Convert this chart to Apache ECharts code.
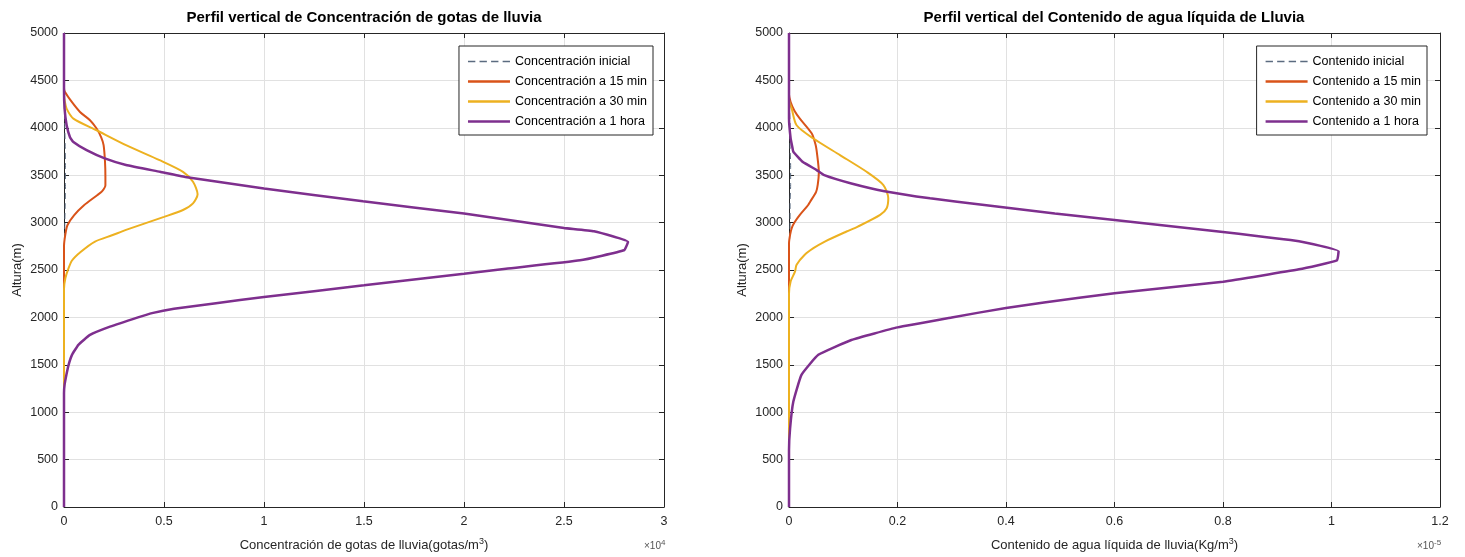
<!DOCTYPE html>
<html>
<head>
<meta charset="utf-8">
<script src="https://cdn.jsdelivr.net/npm/echarts@6/dist/echarts.min.js"></script>
<style>
html,body{margin:0;padding:0;background:#fff;}
#c{width:1465px;height:557px;}
</style>
</head>
<body>
<div id="c"></div>
<script>
// ---------- Data (altitude in m, values in axis units: x1e4 gotas/m3 and x1e-5 Kg/m3) ----------
const yTicks = [0,500,1000,1500,2000,2500,3000,3500,4000,4500,5000];
const leftXTicks = [0,0.5,1,1.5,2,2.5,3];
const rightXTicks = [0,0.2,0.4,0.6,0.8,1,1.2];

// Left: concentration (x1e4)
const concIniAlt = [5000,4400,4200,4000,3800,3600,3400,3200,3000,2800,2600,0];
const concIni    = [0,0,0.002,0.004,0.006,0.007,0.007,0.006,0.004,0.002,0,0];

const conc15Alt = [5000,4420,4377,4270,4167,4080,3992,3900,3817,3642,3480,3394,3330,3289,3183,3077,2972,2866,2750,0];
const conc15    = [0,0,0.005,0.04,0.08,0.13,0.163,0.186,0.198,0.205,0.207,0.207,0.19,0.166,0.1,0.05,0.017,0.006,0,0];

const conc30Alt = [5000,4340,4280,4202,4097,3974,3817,3659,3536,3431,3300,3203,3133,3060,2923,2866,2800,2690,2600,2514,2415,2300,0];
const conc30    = [0,0,0.004,0.013,0.047,0.163,0.31,0.478,0.595,0.645,0.668,0.645,0.595,0.5,0.31,0.24,0.155,0.083,0.04,0.022,0.007,0,0];

const conc1hAlt = [5000,4400,4200,4030,3900,3850,3764,3677,3607,3536,3482,3359,3225,3095,2944,2908,2796,2708,2602,2514,2461,2338,2215,2150,2091,2045,2000,1902,1815,1710,1605,1500,1395,1290,1200,0];
const conc1h    = [0,0,0.003,0.013,0.03,0.047,0.113,0.204,0.31,0.48,0.606,1.0,1.495,2.0,2.5,2.65,2.82,2.8,2.58,2.21,2.0,1.5,1.0,0.76,0.55,0.44,0.37,0.23,0.13,0.072,0.04,0.023,0.012,0.003,0,0];

// Right: liquid water content (x1e-5)
const contIniAlt = [5000,4400,4200,4000,3800,3600,3400,3200,3000,2800,2600,0];
const contIni    = [0,0,0.001,0.002,0.002,0.003,0.003,0.002,0.002,0.001,0,0];

const cont15Alt = [5000,4350,4272,4180,4097,3940,3820,3712,3535,3400,3324,3221,3183,3081,3000,2941,2870,2780,0];
const cont15    = [0,0,0.003,0.01,0.02,0.042,0.049,0.052,0.055,0.053,0.05,0.039,0.035,0.02,0.01,0.005,0.002,0,0];

const cont30Alt = [5000,4300,4202,4027,3887,3712,3536,3396,3256,3151,3081,2958,2906,2800,2730,2660,2555,2482,2380,2250,0];
const cont30    = [0,0,0.005,0.014,0.045,0.094,0.143,0.174,0.183,0.18,0.168,0.127,0.106,0.066,0.045,0.029,0.014,0.011,0.003,0,0];

const cont1hAlt = [5000,4100,3887,3800,3747,3642,3554,3500,3412,3331,3256,3186,3095,3028,2901,2803,2697,2602,2507,2377,2254,2157,2100,2000,1895,1762,1605,1394,1112,830,600,0];
const cont1h    = [0,0,0.003,0.006,0.008,0.025,0.051,0.065,0.115,0.176,0.26,0.36,0.49,0.6,0.8,0.94,1.013,1.01,0.94,0.8,0.6,0.47,0.4,0.3,0.2,0.115,0.054,0.023,0.008,0.002,0,0];

const leftNames  = ['Concentración inicial','Concentración a 15 min','Concentración a 30 min','Concentración a 1 hora'];
const rightNames = ['Contenido inicial','Contenido a 15 min','Contenido a 30 min','Contenido a 1 hora'];
const titles = ['Perfil vertical de Concentración de gotas de lluvia','Perfil vertical del Contenido de agua líquida de Lluvia'];

const colIni = '#5b6b80', col15 = '#D95319', col30 = '#EDB120', col1h = '#7E2F8E';

function pairs(vals, alts){ return vals.map((v,i)=>[v, alts[i]]); }

const FONT = '"Liberation Sans", Arial, sans-serif';
const txt = '#262626';

function xAxisMain(grid, max, interval, nameRich){
  return {
    type:'value', gridIndex:grid, min:0, max:max, interval:interval, position:'bottom',
    axisLine:{show:true, onZero:false, lineStyle:{color:txt, width:1}},
    axisTick:{show:true, inside:true, length:5, lineStyle:{color:txt}},
    axisLabel:{color:txt, fontSize:12.5, fontFamily:FONT, margin:8, formatter:v=>String(+v.toFixed(2))},
    splitLine:{show:true, lineStyle:{color:'#e1e1e1', width:1}},
    name:nameRich, nameLocation:'middle', nameGap:30,
    nameTextStyle:{fontFamily:FONT, color:txt, rich:{
      a:{fontSize:13, fontFamily:FONT, color:txt},
      b:{fontSize:9, fontFamily:FONT, color:txt, padding:[0,0,7,0]}
    }}
  };
}
function xAxisTop(grid, max, interval){
  return {
    type:'value', gridIndex:grid, min:0, max:max, interval:interval, position:'top',
    axisLine:{show:true, onZero:false, lineStyle:{color:txt, width:1}},
    axisTick:{show:true, inside:true, length:5, lineStyle:{color:txt}},
    axisLabel:{show:false}, splitLine:{show:false}
  };
}
function yAxisMain(grid){
  return {
    type:'value', gridIndex:grid, min:0, max:5000, interval:500, position:'left',
    axisLine:{show:true, onZero:false, lineStyle:{color:txt, width:1}},
    axisTick:{show:true, inside:true, length:5, lineStyle:{color:txt}},
    axisLabel:{color:txt, fontSize:12.5, fontFamily:FONT, margin:6, formatter:v=>String(v)},
    splitLine:{show:true, lineStyle:{color:'#e1e1e1', width:1}},
    name:'Altura(m)', nameLocation:'middle', nameGap:40,
    nameTextStyle:{fontSize:13, fontFamily:FONT, color:txt}
  };
}
function yAxisRight(grid){
  return {
    type:'value', gridIndex:grid, min:0, max:5000, interval:500, position:'right',
    axisLine:{show:true, onZero:false, lineStyle:{color:txt, width:1}},
    axisTick:{show:true, inside:true, length:5, lineStyle:{color:txt}},
    axisLabel:{show:false}, splitLine:{show:false}
  };
}
function line(name, data, color, width, xi, yi, dashed, z, smooth){
  return {
    type:'line', name:name, data:data, xAxisIndex:xi, yAxisIndex:yi,
    symbol:'none', showSymbol:false, smooth:smooth, z:z,
    lineStyle:{color:color, width:width, type: dashed ? [6,4] : 'solid'},
    itemStyle:{color:color},
    emphasis:{disabled:true}, animation:false
  };
}
const solidIcon  = 'path://M0,0h40v2.4h-40z';
const dashedIcon = 'path://M0,0h7v1.3h-7z M11,0h7v1.3h-7z M22,0h7v1.3h-7z M33,0h7v1.3h-7z';
function legendCfg(names, right){
  return {
    data:names.map((n,i)=>({name:n, icon: i === 0 ? dashedIcon : solidIcon})),
    orient:'vertical', right:right, top:46, itemWidth:42, itemHeight:14, itemGap:7,
    symbolKeepAspect:true,
    padding:[9,6,7,9], backgroundColor:'#fff', borderColor:txt, borderWidth:1, borderRadius:0,
    textStyle:{fontSize:12.5, color:'#000', fontFamily:FONT}, selectedMode:false
  };
}

const chart = echarts.init(document.getElementById('c'), null, {renderer:'canvas'});
chart.setOption({
  backgroundColor:'#ffffff',
  animation:false,
  textStyle:{fontFamily:FONT},
  grid:[
    {left:64, top:33, width:600, height:474, containLabel:false},
    {left:789, top:33, width:651, height:474, containLabel:false}
  ],
  xAxis:[
    xAxisMain(0, 3, 0.5, '{a|Concentración de gotas de lluvia(gotas/m}{b|3}{a|)}'),
    xAxisMain(1, 1.2, 0.2, '{a|Contenido de agua líquida de lluvia(Kg/m}{b|3}{a|)}'),
    xAxisTop(0, 3, 0.5),
    xAxisTop(1, 1.2, 0.2)
  ],
  yAxis:[ yAxisMain(0), yAxisMain(1), yAxisRight(0), yAxisRight(1) ],
  legend:[ legendCfg(leftNames, 812), legendCfg(rightNames, 38) ],
  graphic:[
    {type:'text', x:364, y:10, style:{text:titles[0], align:'center', fill:'#000',
      font:'bold 15px "Liberation Sans", Arial, sans-serif'}},
    {type:'text', x:1114, y:10, style:{text:titles[1], align:'center', fill:'#000',
      font:'bold 15px "Liberation Sans", Arial, sans-serif'}},
    {type:'text', left:644, top:539, style:{text:'{a|×10}{b|4}', rich:{
      a:{fontSize:10, fontFamily:FONT, fill:'#555'}, b:{fontSize:8, fontFamily:FONT, fill:'#555', padding:[0,0,6,0]}}}},
    {type:'text', left:1417, top:539, style:{text:'{a|×10}{b|-5}', rich:{
      a:{fontSize:10, fontFamily:FONT, fill:'#555'}, b:{fontSize:8, fontFamily:FONT, fill:'#555', padding:[0,0,6,0]}}}}
  ],
  series:[
    line(leftNames[0], pairs(concIni, concIniAlt), colIni, 1, 0, 0, true, 2, 0.25),
    line(leftNames[1], pairs(conc15, conc15Alt), col15, 2, 0, 0, false, 3, 0.25),
    line(leftNames[2], pairs(conc30, conc30Alt), col30, 2, 0, 0, false, 4, 0.25),
    line(leftNames[3], pairs(conc1h, conc1hAlt), col1h, 2.5, 0, 0, false, 5, 0.12),
    line(rightNames[0], pairs(contIni, contIniAlt), colIni, 1, 1, 1, true, 2, 0.25),
    line(rightNames[1], pairs(cont15, cont15Alt), col15, 2, 1, 1, false, 3, 0.25),
    line(rightNames[2], pairs(cont30, cont30Alt), col30, 2, 1, 1, false, 4, 0.25),
    line(rightNames[3], pairs(cont1h, cont1hAlt), col1h, 2.5, 1, 1, false, 5, 0.12)
  ]
});
</script>
</body>
</html>
